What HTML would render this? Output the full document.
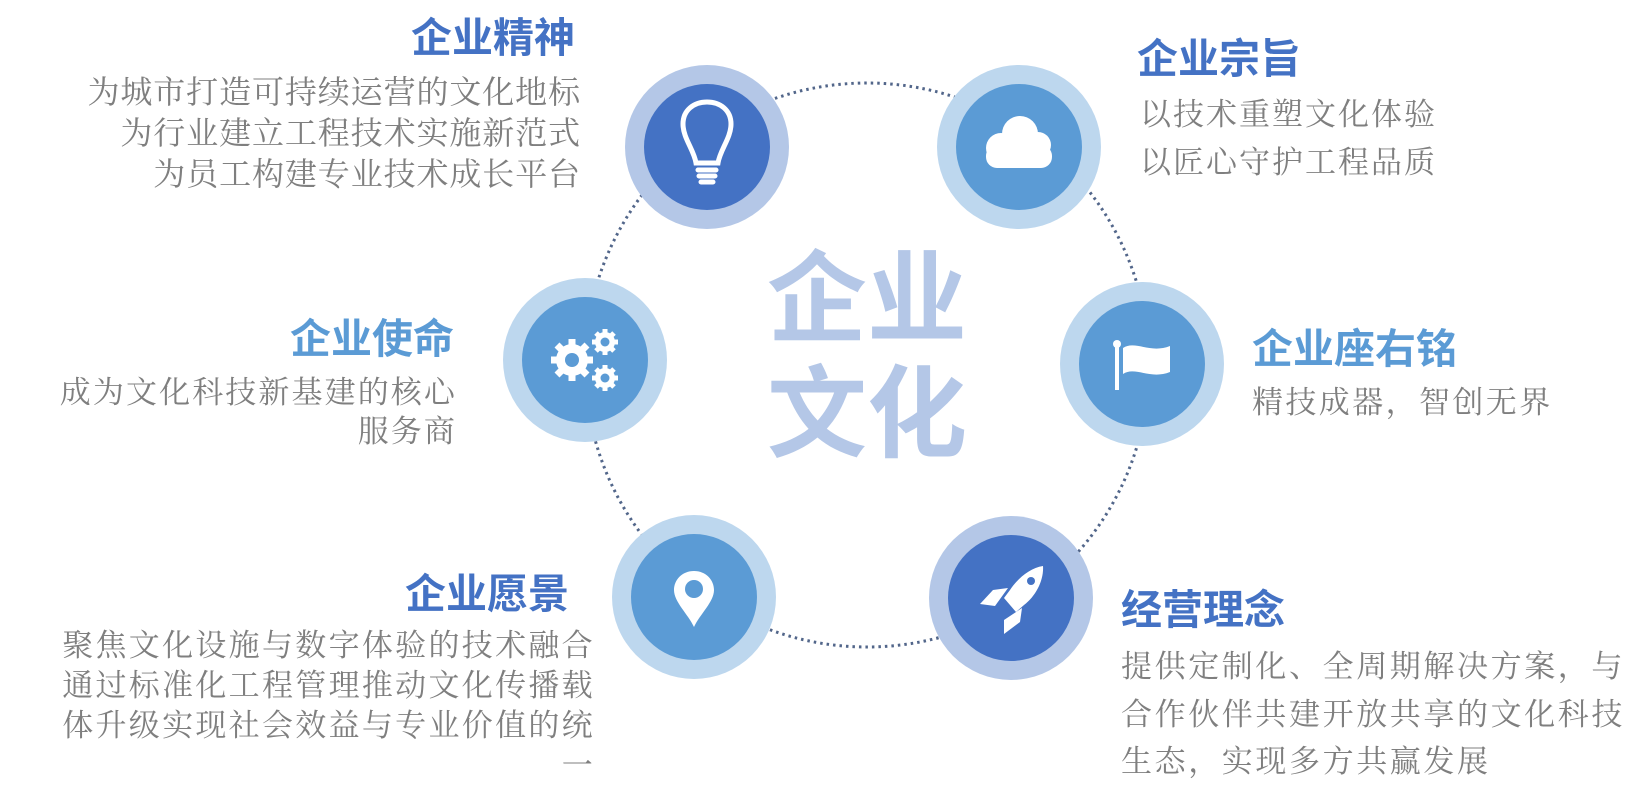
<!DOCTYPE html>
<html><head><meta charset="utf-8"><style>
html,body{margin:0;padding:0;background:#fff;}
body{width:1647px;height:805px;position:relative;overflow:hidden;font-family:"Liberation Sans","Noto Sans CJK SC",sans-serif;}
.t{position:absolute;font-weight:bold;font-size:41px;line-height:44px;white-space:nowrap;}
.b{position:absolute;color:#7f7f7f;font-size:31px;white-space:nowrap;font-family:"Liberation Serif","Noto Serif CJK SC",serif;}
.r{text-align:right;}
.center{position:absolute;left:762px;width:210px;font-size:100px;line-height:112px;font-weight:bold;color:#b4c7e7;text-align:center;letter-spacing:0px;}
</style></head><body>
<svg width="1647" height="805" style="position:absolute;left:0;top:0">
<circle cx="867" cy="365" r="282" fill="none" stroke="#52668a" stroke-width="3" stroke-dasharray="2.5 4"/>
<circle cx="707" cy="147" r="82" fill="#b4c7e7"/><circle cx="707" cy="147" r="63" fill="#4472c4"/>
<circle cx="1019" cy="147" r="82" fill="#bdd7ee"/><circle cx="1019" cy="147" r="63" fill="#5b9bd5"/>
<circle cx="585" cy="360" r="82" fill="#bdd7ee"/><circle cx="585" cy="360" r="63" fill="#5b9bd5"/>
<circle cx="1142" cy="364" r="82" fill="#bdd7ee"/><circle cx="1142" cy="364" r="63" fill="#5b9bd5"/>
<circle cx="694" cy="597" r="82" fill="#bdd7ee"/><circle cx="694" cy="597" r="63" fill="#5b9bd5"/>
<circle cx="1011" cy="598" r="82" fill="#b4c7e7"/><circle cx="1011" cy="598" r="63" fill="#4472c4"/>
<g fill="none" stroke="#fff" stroke-width="5" stroke-linecap="round">
<path d="M696 163 C694 150 683 138 683 124 C683 110 694 102 707 102 C720 102 731 110 731 124 C731 138 720 150 718 163 Z"/>
<path d="M698 170 L716 170 M699 176 L715 176 M701 182 L713 182"/>
</g>
<g fill="#fff">
<circle cx="1001" cy="148" r="15"/><circle cx="1020" cy="134" r="18"/><circle cx="1038" cy="145" r="13"/>
<rect x="986" y="145" width="66" height="23" rx="11"/>
</g>
<g fill="#fff">
<circle cx="572" cy="360" r="16"/>
<g stroke="#fff" stroke-width="7"><line x1="572" y1="339" x2="572" y2="381"/><line x1="551" y1="360" x2="593" y2="360"/><line x1="557" y1="345" x2="587" y2="375"/><line x1="557" y1="375" x2="587" y2="345"/></g>
<circle cx="605" cy="342" r="10"/>
<g stroke="#fff" stroke-width="5"><line x1="605" y1="329" x2="605" y2="355"/><line x1="592" y1="342" x2="618" y2="342"/><line x1="596" y1="333" x2="614" y2="351"/><line x1="596" y1="351" x2="614" y2="333"/></g>
<circle cx="605" cy="378" r="10"/>
<g stroke="#fff" stroke-width="5"><line x1="605" y1="365" x2="605" y2="391"/><line x1="592" y1="378" x2="618" y2="378"/><line x1="596" y1="369" x2="614" y2="387"/><line x1="596" y1="387" x2="614" y2="369"/></g>
</g>
<circle cx="572" cy="360" r="7" fill="#5b9bd5"/><circle cx="605" cy="342" r="4.5" fill="#5b9bd5"/><circle cx="605" cy="378" r="4.5" fill="#5b9bd5"/>
<g fill="#fff">
<rect x="1115" y="345" width="4" height="45"/><circle cx="1117" cy="344" r="4"/>
<path d="M1123 348 C1135 340 1150 354 1170 346 L1170 372 C1150 380 1135 366 1123 374 Z"/>
</g>
<path d="M694 571 C706 571 714 580 714 590 C714 602 700 614 694 627 C688 614 674 602 674 590 C674 580 682 571 694 571 Z" fill="#fff"/>
<circle cx="694" cy="589" r="9" fill="#5b9bd5"/>
<g fill="#fff">
<path d="M1043 566 C1030 568 1018 578 1010 590 L1004 598 L1016 612 L1024 605 C1036 596 1044 580 1043 566 Z"/>
<path d="M1008 588 L993 590 L980 604 L995 606 Z"/>
<path d="M1022 608 L1020 622 L1004 634 L1004 620 Z"/>
</g>
<circle cx="1031" cy="581" r="4" fill="#4472c4"/>
</svg>

<div class="center" style="top:244px">企业</div>
<div class="center" style="top:359px">文化</div>

<div class="t" style="right:1072px;top:16px;color:#4472c4">企业精神</div>
<div class="b r" style="right:1066px;top:72px;line-height:41px;letter-spacing:0.9px;font-size:32px">为城市打造可持续运营的文化地标<br>为行业建立工程技术实施新范式<br>为员工构建专业技术成长平台</div>

<div class="t" style="left:1137px;top:37px;color:#4472c4">企业宗旨</div>
<div class="b" style="left:1140px;top:91px;line-height:48px;letter-spacing:2px">以技术重塑文化体验<br>以匠心守护工程品质</div>

<div class="t" style="right:1193px;top:317px;color:#5b9bd5">企业使命</div>
<div class="b r" style="right:1190px;top:373px;line-height:39px;letter-spacing:2.1px">成为文化科技新基建的核心<br>服务商</div>

<div class="t" style="left:1252px;top:327px;color:#5b9bd5">企业座右铭</div>
<div class="b" style="left:1252px;top:383px;line-height:40px;letter-spacing:2.4px">精技成器，智创无界</div>

<div class="t" style="right:1078px;top:572px;color:#4472c4">企业愿景</div>
<div class="b r" style="right:1052px;top:626px;line-height:40px;letter-spacing:2.3px">聚焦文化设施与数字体验的技术融合<br>通过标准化工程管理推动文化传播载<br>体升级实现社会效益与专业价值的统<br>一</div>

<div class="t" style="left:1121px;top:588px;color:#4472c4">经营理念</div>
<div class="b" style="left:1121px;top:643px;line-height:47.5px;letter-spacing:2.6px">提供定制化、全周期解决方案，与<br>合作伙伴共建开放共享的文化科技<br>生态，实现多方共赢发展</div>
</body></html>
